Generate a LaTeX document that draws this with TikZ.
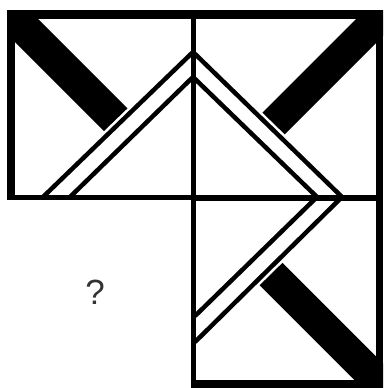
\documentclass[tikz,border=0pt]{standalone}
\usepackage{fontspec}
\setmainfont{Liberation Sans}
\begin{document}
\begin{tikzpicture}[x=1pt,y=-1pt,
  chev/.style={line width=4.5pt, line join=miter},
  band/.style={fill=black},
  framebar/.style={fill=black}]
\useasboundingbox (0,0) rectangle (383,388);
\fill[white] (0,0) rectangle (383,388);
% thick diagonal bands
\fill[band] (7,10) -- (29,10) -- (127.4,108.4) -- (104,131) -- (7,34) -- cycle;
\fill[band] (365,10) -- (383,10) -- (383,36) -- (284.7,134.3) -- (262.4,112.6) -- cycle;
\fill[band] (282.4,262.9) -- (383,363.5) -- (383,388) -- (362.5,388) -- (259.7,285.2) -- cycle;
% chevron lines
\coordinate (A1) at (43,197);
\coordinate (B1) at (193,52);
\coordinate (C1) at (342,197);
\coordinate (D1) at (195,342);
\coordinate (A2) at (70,197);
\coordinate (B2) at (193,77);
\coordinate (C2) at (317,197);
\coordinate (D2) at (195,316);
\draw[chev] (A1) -- (B1) -- (C1) -- (D1);
\draw[chev] (A2) -- (B2) -- (C2) -- (D2);
% frame
\fill[framebar] (7,10) rectangle (383,19);
\fill[framebar] (7,10) rectangle (15,200);
\fill[framebar] (7,195) rectangle (196,200);
\fill[framebar] (191,10) rectangle (195.5,388);
\fill[framebar] (193,195) rectangle (383,201);
\fill[framebar] (376,10) rectangle (383,388);
\fill[framebar] (191,380) rectangle (383,388);
% question mark
\node[font=\fontsize{35}{38}\selectfont, text=black!80, inner sep=0pt] (q) at (95,292.5) {?};
\end{tikzpicture}
\end{document}
